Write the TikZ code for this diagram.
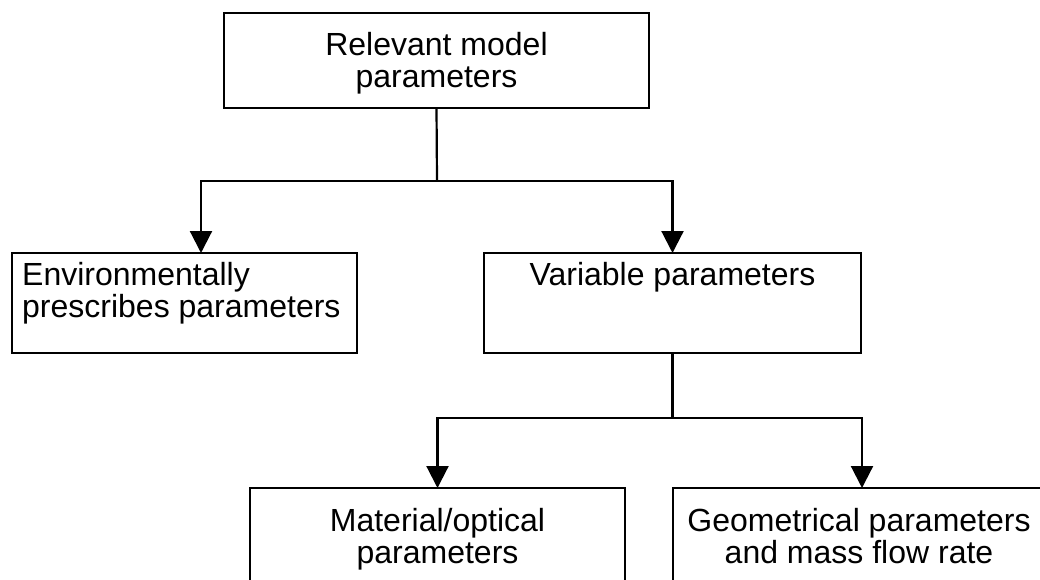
\documentclass[tikz,border=0pt]{standalone}
\usepackage{fontspec}
\setmainfont{Liberation Sans}
\usetikzlibrary{arrows.meta}
\begin{document}
\begin{tikzpicture}[x=1pt,y=-1pt,
  box/.style={draw, line width=2.2pt, rectangle, inner sep=0pt, outer sep=0pt},
  lbl/.style={inner sep=0pt, font=\fontsize{32}{32}\selectfont, align=center, anchor=north},
  conn/.style={line width=2.2pt},
  arr/.style={line width=2.2pt, -{Triangle[length=22pt,width=22pt]}}]
\useasboundingbox (0,0) rectangle (1040,580);
\clip (0,0) rectangle (1040,580);

% boxes
\node[box, minimum width=425pt, minimum height=95pt]  (top) at (436.5,60.5) {};
\node[box, minimum width=345pt, minimum height=100pt] (env) at (184.5,303) {};
\node[box, minimum width=377pt, minimum height=100pt] (var) at (672.5,303) {};
\node[box, minimum width=375pt, minimum height=130pt] (mat) at (437.5,553) {};
\node[box, minimum width=378pt, minimum height=130pt] (geo) at (862,553) {};

% labels
\node[lbl] (toptext) at (436.5,32) {Relevant model\\parameters};
\node[lbl, align=left, anchor=north west] (envtext) at (22,262) {Environmentally\\prescribes parameters};
\node[lbl] (vartext) at (672.5,262) {Variable parameters};
\node[lbl] (mattext) at (437.5,508) {Material/optical\\parameters};
\node[lbl] (geotext) at (859,508) {Geometrical parameters\\and mass flow rate};

% connectors
\coordinate (j1) at (437,181);
\coordinate (j2) at (672.5,418);
\draw[conn] (top.south) -- (j1);
\draw[arr] (j1) -| ([xshift=16.5pt]env.north);
\draw[arr] (j1) -| (var.north);
\draw[conn] (var.south) -- (j2);
\draw[arr] (j2) -| (mat.north);
\draw[arr] (j2) -| (geo.north);
\end{tikzpicture}
\end{document}
